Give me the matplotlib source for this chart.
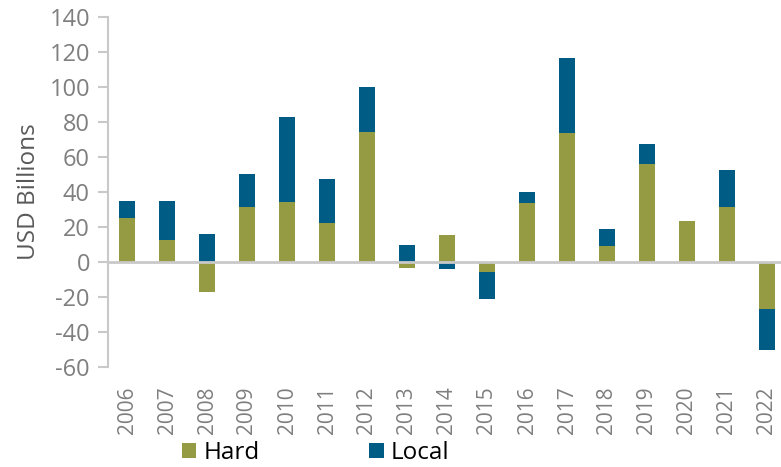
import numpy as np
import matplotlib.pyplot as plt

plt.rcParams['font.family'] = ['Open Sans', 'DejaVu Sans']
plt.rcParams['axes.unicode_minus'] = False

years = ['2006', '2007', '2008', '2009', '2010', '2011', '2012', '2013', '2014',
         '2015', '2016', '2017', '2018', '2019', '2020', '2021', '2022']
hard = [25.1, 12.6, -17.5, 31.4, 34.1, 22.1, 73.9, -3.4, 15.2,
        -5.9, 33.3, 73.7, 9.0, 55.6, 23.0, 31.2, -27.2]
local = [9.6, 21.9, 16.0, 18.5, 48.4, 24.9, 26.1, 9.5, -4.4,
         -15.2, 6.7, 42.5, 9.7, 11.4, 0.4, 21.2, -23.1]

green = '#949b42'
blue = '#005b85'
grey_txt = '#7f7f7f'
grey_line = '#c9c9c9'

hard = np.array(hard)
local = np.array(local)
x = np.arange(len(years))

# local stacks on hard only when both have the same sign
local_bottom = np.where(np.sign(hard) == np.sign(local), hard, 0)

fig = plt.figure(figsize=(7.81, 4.67), dpi=100)
ax = fig.add_axes([108 / 781, 0.2148, 1 - 108 / 781, 0.7494])

ax.bar(x, hard, width=0.4, color=green, label='Hard', zorder=2)
ax.bar(x, local, width=0.4, bottom=local_bottom, color=blue, label='Local', zorder=2)
ax.axhline(0, color=grey_line, lw=2, zorder=3)

ax.set_xlim(-0.475, 16.35)
ax.set_ylim(-60, 140)
ax.set_yticks(range(-60, 141, 20))
ax.set_xticks(x)
ax.set_xticklabels(years, rotation=90)

for s in ['top', 'right', 'bottom']:
    ax.spines[s].set_visible(False)
ax.spines['left'].set_color(grey_line)
ax.spines['left'].set_linewidth(1.5)

ax.tick_params(axis='y', colors=grey_line, labelcolor=grey_txt, labelsize=17,
               length=7, width=1.5, pad=6)
ax.tick_params(axis='x', length=0, labelcolor=grey_txt, labelsize=15, pad=14)
ax.set_ylabel('USD Billions', fontsize=17.5, color='#595959', labelpad=6)

fig.legend(loc='center', bbox_to_anchor=(0.404, 0.03), ncol=2, frameon=False,
           fontsize=17.5, handlelength=0.6, handleheight=0.6, handletextpad=0.3,
           columnspacing=4.5)

fig.savefig('out.png', dpi=100)
